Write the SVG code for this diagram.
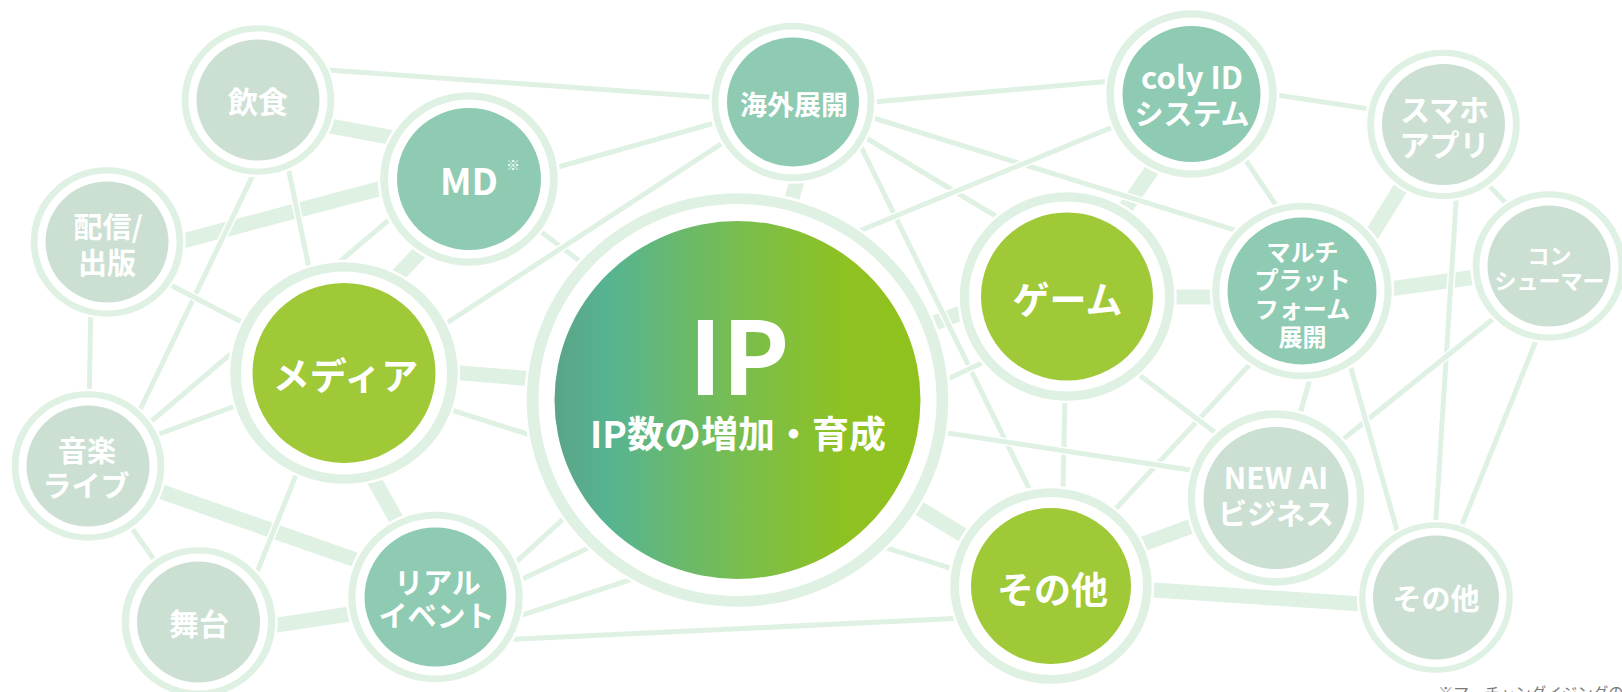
<svg xmlns="http://www.w3.org/2000/svg" width="1622" height="692" viewBox="0 0 1622 692">
<defs>
<linearGradient id="ipg" x1="0" y1="0" x2="1" y2="0">
<stop offset="0" stop-color="#5ba487"/>
<stop offset="0.15" stop-color="#56b491"/>
<stop offset="0.5" stop-color="#78bd4f"/>
<stop offset="0.8" stop-color="#8fc221"/>
<stop offset="1" stop-color="#90c21f"/>
</linearGradient>
<style>
.tw{stroke:#fff;stroke-width:18}
.tg{stroke:#dff1e3;stroke-width:15}
.nw{stroke:#fff;stroke-width:8}
.ng{stroke:#dff1e3;stroke-width:5}
.ring{fill:#dff1e3;stroke:#fff;stroke-width:2.5}
.gap{fill:#fff}
.grey{fill:#cbdfd3}
.teal{fill:#8ecbb2}
.green{fill:#a0c937}
.t{font-family:"Noto Sans CJK JP","Noto Sans",sans-serif;font-weight:700;fill:#fff;text-anchor:middle}
</style>
</defs>
<rect width="1622" height="692" fill="#fff"/>
<g id="connectors">
<line class="tw" x1="258" y1="112.3" x2="469" y2="152.2"/><line class="tg" x1="258" y1="112.3" x2="469" y2="152.2"/>
<line class="tw" x1="107" y1="261" x2="469" y2="165"/><line class="tg" x1="107" y1="261" x2="469" y2="165"/>
<line class="tw" x1="344" y1="332" x2="440" y2="231"/><line class="tg" x1="344" y1="332" x2="440" y2="231"/>
<line class="tw" x1="815" y1="120" x2="765" y2="290"/><line class="tg" x1="815" y1="120" x2="765" y2="290"/>
<line class="tw" x1="344" y1="363.4" x2="700" y2="392.6"/><line class="tg" x1="344" y1="363.4" x2="700" y2="392.6"/>
<line class="tw" x1="329" y1="400" x2="440" y2="597"/><line class="tg" x1="329" y1="400" x2="440" y2="597"/>
<line class="tw" x1="88" y1="466" x2="436" y2="588"/><line class="tg" x1="88" y1="466" x2="436" y2="588"/>
<line class="tw" x1="198" y1="637" x2="436" y2="601"/><line class="tg" x1="198" y1="637" x2="436" y2="601"/>
<line class="tw" x1="737" y1="396" x2="1067" y2="274"/><line class="tg" x1="737" y1="396" x2="1067" y2="274"/>
<line class="tw" x1="737" y1="397" x2="1051" y2="589"/><line class="tg" x1="737" y1="397" x2="1051" y2="589"/>
<line class="tw" x1="1064" y1="296" x2="1205" y2="94"/><line class="tg" x1="1064" y1="296" x2="1205" y2="94"/>
<line class="tw" x1="1067" y1="297" x2="1302" y2="297"/><line class="tg" x1="1067" y1="297" x2="1302" y2="297"/>
<line class="tw" x1="1337" y1="291" x2="1440" y2="124"/><line class="tg" x1="1337" y1="291" x2="1440" y2="124"/>
<line class="tw" x1="1302" y1="301" x2="1549" y2="267"/><line class="tg" x1="1302" y1="301" x2="1549" y2="267"/>
<line class="tw" x1="1051" y1="578" x2="1276" y2="495"/><line class="tg" x1="1051" y1="578" x2="1276" y2="495"/>
<line class="tw" x1="1051" y1="583" x2="1436" y2="609"/><line class="tg" x1="1051" y1="583" x2="1436" y2="609"/>
<line class="nw" x1="258" y1="65" x2="793" y2="103"/><line class="ng" x1="258" y1="65" x2="793" y2="103"/>
<line class="nw" x1="289" y1="100" x2="113" y2="466"/><line class="ng" x1="289" y1="100" x2="113" y2="466"/>
<line class="nw" x1="274" y1="100" x2="331" y2="373"/><line class="ng" x1="274" y1="100" x2="331" y2="373"/>
<line class="nw" x1="92" y1="242" x2="88" y2="466"/><line class="ng" x1="92" y1="242" x2="88" y2="466"/>
<line class="nw" x1="107" y1="252" x2="344" y2="375"/><line class="ng" x1="107" y1="252" x2="344" y2="375"/>
<line class="nw" x1="469" y1="152" x2="88" y2="475"/><line class="ng" x1="469" y1="152" x2="88" y2="475"/>
<line class="nw" x1="469" y1="192" x2="793" y2="101"/><line class="ng" x1="469" y1="192" x2="793" y2="101"/>
<line class="nw" x1="469" y1="177" x2="640" y2="307"/><line class="ng" x1="469" y1="177" x2="640" y2="307"/>
<line class="nw" x1="793" y1="97" x2="344" y2="390"/><line class="ng" x1="793" y1="97" x2="344" y2="390"/>
<line class="nw" x1="793" y1="109" x2="1191" y2="74"/><line class="ng" x1="793" y1="109" x2="1191" y2="74"/>
<line class="nw" x1="793" y1="93" x2="1302" y2="251"/><line class="ng" x1="793" y1="93" x2="1302" y2="251"/>
<line class="nw" x1="793" y1="94" x2="1067" y2="259"/><line class="ng" x1="793" y1="94" x2="1067" y2="259"/>
<line class="nw" x1="839" y1="102" x2="1077" y2="586"/><line class="ng" x1="839" y1="102" x2="1077" y2="586"/>
<line class="nw" x1="737" y1="281" x2="1191" y2="95"/><line class="ng" x1="737" y1="281" x2="1191" y2="95"/>
<line class="nw" x1="1191" y1="82" x2="1443" y2="120"/><line class="ng" x1="1191" y1="82" x2="1443" y2="120"/>
<line class="nw" x1="1201" y1="94" x2="1334" y2="291"/><line class="ng" x1="1201" y1="94" x2="1334" y2="291"/>
<line class="nw" x1="1430" y1="124" x2="1566" y2="266"/><line class="ng" x1="1430" y1="124" x2="1566" y2="266"/>
<line class="nw" x1="1461" y1="124" x2="1431" y2="597"/><line class="ng" x1="1461" y1="124" x2="1431" y2="597"/>
<line class="nw" x1="1549" y1="274" x2="1276" y2="493"/><line class="ng" x1="1549" y1="274" x2="1276" y2="493"/>
<line class="nw" x1="1566" y1="266" x2="1433" y2="597"/><line class="ng" x1="1566" y1="266" x2="1433" y2="597"/>
<line class="nw" x1="1335" y1="291" x2="1276" y2="498"/><line class="ng" x1="1335" y1="291" x2="1276" y2="498"/>
<line class="nw" x1="1329" y1="291" x2="1416" y2="597"/><line class="ng" x1="1329" y1="291" x2="1416" y2="597"/>
<line class="nw" x1="1318" y1="291" x2="1044" y2="586"/><line class="ng" x1="1318" y1="291" x2="1044" y2="586"/>
<line class="nw" x1="1067" y1="320" x2="1276" y2="479"/><line class="ng" x1="1067" y1="320" x2="1276" y2="479"/>
<line class="nw" x1="1067" y1="296" x2="1061" y2="586"/><line class="ng" x1="1067" y1="296" x2="1061" y2="586"/>
<line class="nw" x1="435" y1="620" x2="1067" y2="323"/><line class="ng" x1="435" y1="620" x2="1067" y2="323"/>
<line class="nw" x1="436" y1="635" x2="640" y2="449"/><line class="ng" x1="436" y1="635" x2="640" y2="449"/>
<line class="nw" x1="436" y1="643" x2="700" y2="557"/><line class="ng" x1="436" y1="643" x2="700" y2="557"/>
<line class="nw" x1="436" y1="643" x2="1051" y2="614"/><line class="ng" x1="436" y1="643" x2="1051" y2="614"/>
<line class="nw" x1="344" y1="376" x2="1051" y2="600"/><line class="ng" x1="344" y1="376" x2="1051" y2="600"/>
<line class="nw" x1="88" y1="460" x2="344" y2="366"/><line class="ng" x1="88" y1="460" x2="344" y2="366"/>
<line class="nw" x1="337" y1="373" x2="237" y2="622"/><line class="ng" x1="337" y1="373" x2="237" y2="622"/>
<line class="nw" x1="88" y1="466" x2="198" y2="622"/><line class="ng" x1="88" y1="466" x2="198" y2="622"/>
<line class="nw" x1="737" y1="401" x2="1276" y2="483"/><line class="ng" x1="737" y1="401" x2="1276" y2="483"/>
</g>
<g id="node-inshoku">
<ellipse class="ring" cx="258" cy="100" rx="77.5" ry="76"/><ellipse class="gap" cx="258" cy="100" rx="69.5" ry="68.5"/><ellipse class="grey" cx="258" cy="100" rx="61.5" ry="60.5"/>
<text class="t" x="258" y="113" font-size="30">飲食</text>
</g>
<g id="node-md">
<ellipse class="ring" cx="469" cy="179" rx="90" ry="88"/><ellipse class="gap" cx="469" cy="179" rx="81" ry="79.5"/><ellipse class="teal" cx="469" cy="179" rx="72" ry="71"/>
<text class="t" x="469" y="194.5" font-size="37">MD</text>
<text class="t" x="513" y="169.5" font-size="14">※</text>
</g>
<g id="node-haishin">
<ellipse class="ring" cx="107" cy="242" rx="77.5" ry="76"/><ellipse class="gap" cx="107" cy="242" rx="69.5" ry="68.5"/><ellipse class="grey" cx="107" cy="242" rx="61.5" ry="60.5"/>
<text class="t" font-size="29"><tspan x="108" y="237.5">配信/</tspan><tspan x="107" y="273.5">出版</tspan></text>
</g>
<g id="node-kaigai">
<ellipse class="ring" cx="793" cy="102" rx="82.5" ry="80.5"/><ellipse class="gap" cx="793" cy="102" rx="74.5" ry="72.5"/><ellipse class="teal" cx="793" cy="102" rx="66" ry="64.5"/>
<text class="t" x="794" y="114.5" font-size="27">海外展開</text>
</g>
<g id="node-coly">
<ellipse class="ring" cx="1191.5" cy="94" rx="86.5" ry="85"/><ellipse class="gap" cx="1191.5" cy="94" rx="77.5" ry="76.5"/><ellipse class="teal" cx="1191.5" cy="94" rx="69" ry="68"/>
<text class="t" font-size="29"><tspan x="1192" y="88.5" font-size="31">coly ID</tspan><tspan x="1192" y="125.2">システム</tspan></text>
</g>
<g id="node-sumaho">
<ellipse class="ring" cx="1443.5" cy="124.5" rx="77.5" ry="76"/><ellipse class="gap" cx="1443.5" cy="124.5" rx="69.5" ry="68.5"/><ellipse class="grey" cx="1443.5" cy="124.5" rx="61.5" ry="60.5"/>
<text class="t" font-size="30"><tspan x="1444.5" y="120.6">スマホ</tspan><tspan x="1444.5" y="155.6">アプリ</tspan></text>
</g>
<g id="node-consumer">
<ellipse class="ring" cx="1549" cy="266" rx="77.5" ry="76"/><ellipse class="gap" cx="1549" cy="266" rx="69.5" ry="68.5"/><ellipse class="grey" cx="1549" cy="266" rx="61.5" ry="60.5"/>
<text class="t" font-size="22"><tspan x="1549.5" y="264.2">コン</tspan><tspan x="1549.5" y="289.2">シューマー</tspan></text>
</g>
<g id="node-multi">
<ellipse class="ring" cx="1302" cy="291" rx="91" ry="89.5"/><ellipse class="gap" cx="1302" cy="291" rx="82.5" ry="81.5"/><ellipse class="teal" cx="1302" cy="291" rx="74.5" ry="73.5"/>
<text class="t" font-size="24"><tspan x="1302.5" y="260.8">マルチ</tspan><tspan x="1302.5" y="289.1">プラット</tspan><tspan x="1302.5" y="318.3">フォーム</tspan><tspan x="1302.5" y="345.8">展開</tspan></text>
</g>
<g id="node-game">
<ellipse class="ring" cx="1067" cy="296.5" rx="108.5" ry="105.5"/><ellipse class="gap" cx="1067" cy="296.5" rx="98" ry="95"/><ellipse class="green" cx="1067" cy="296.5" rx="86" ry="84"/>
<text class="t" x="1067.5" y="314" font-size="37">ゲーム</text>
</g>
<g id="node-ip">
<ellipse class="ring" cx="737.5" cy="400" rx="212" ry="208"/><ellipse class="gap" cx="737.5" cy="400" rx="199" ry="196"/><ellipse fill="url(#ipg)" cx="737.5" cy="400" rx="183" ry="179"/>
<text class="t" x="739" y="395" font-size="101">IP</text>
<text class="t" x="738" y="447.5" font-size="37">IP数の増加・育成</text>
</g>
<g id="node-media">
<ellipse class="ring" cx="344" cy="373" rx="115" ry="112"/><ellipse class="gap" cx="344" cy="373" rx="103" ry="101.5"/><ellipse class="green" cx="344" cy="373" rx="91.5" ry="90"/>
<text class="t" x="345.5" y="390" font-size="37">メディア</text>
</g>
<g id="node-ongaku">
<ellipse class="ring" cx="88" cy="466" rx="77.5" ry="76"/><ellipse class="gap" cx="88" cy="466" rx="69.5" ry="68.5"/><ellipse class="grey" cx="88" cy="466" rx="61.5" ry="60.5"/>
<text class="t" font-size="29"><tspan x="87" y="461.7">音楽</tspan><tspan x="86" y="497.4">ライブ</tspan></text>
</g>
<g id="node-butai">
<ellipse class="ring" cx="198.5" cy="622" rx="78" ry="76"/><ellipse class="gap" cx="198.5" cy="622" rx="69.5" ry="68.5"/><ellipse class="grey" cx="198.5" cy="622" rx="61.5" ry="60.5"/>
<text class="t" x="199" y="635" font-size="30">舞台</text>
</g>
<g id="node-real">
<ellipse class="ring" cx="435.5" cy="597" rx="88.5" ry="86.5"/><ellipse class="gap" cx="435.5" cy="597" rx="80" ry="78.5"/><ellipse class="teal" cx="435.5" cy="597" rx="71" ry="69.5"/>
<text class="t" font-size="29"><tspan x="437.5" y="593.5">リアル</tspan><tspan x="436.5" y="627.3">イベント</tspan></text>
</g>
<g id="node-sonota">
<ellipse class="ring" cx="1051" cy="586" rx="102" ry="99"/><ellipse class="gap" cx="1051" cy="586" rx="92" ry="89"/><ellipse class="green" cx="1051" cy="586" rx="80" ry="78"/>
<text class="t" x="1052.5" y="604" font-size="37">その他</text>
</g>
<g id="node-newai">
<ellipse class="ring" cx="1276" cy="498" rx="89.5" ry="89"/><ellipse class="gap" cx="1276" cy="498" rx="81" ry="80"/><ellipse class="grey" cx="1276" cy="498" rx="72.5" ry="71"/>
<text class="t" font-size="29"><tspan x="1276" y="489.3" font-size="30">NEW AI</tspan><tspan x="1276" y="525.2">ビジネス</tspan></text>
</g>
<g id="node-sonota2">
<ellipse class="ring" cx="1436" cy="597.5" rx="78" ry="76.5"/><ellipse class="gap" cx="1436" cy="597.5" rx="70.5" ry="69.5"/><ellipse class="grey" cx="1436" cy="597.5" rx="63" ry="62"/>
<text class="t" x="1436" y="610.2" font-size="29">その他</text>
</g>
<text x="1438" y="699" font-family="'Noto Sans CJK JP','Noto Sans',sans-serif" font-size="15.5" fill="#7a7a7a">※マーチャンダイジングの</text>
</svg>
